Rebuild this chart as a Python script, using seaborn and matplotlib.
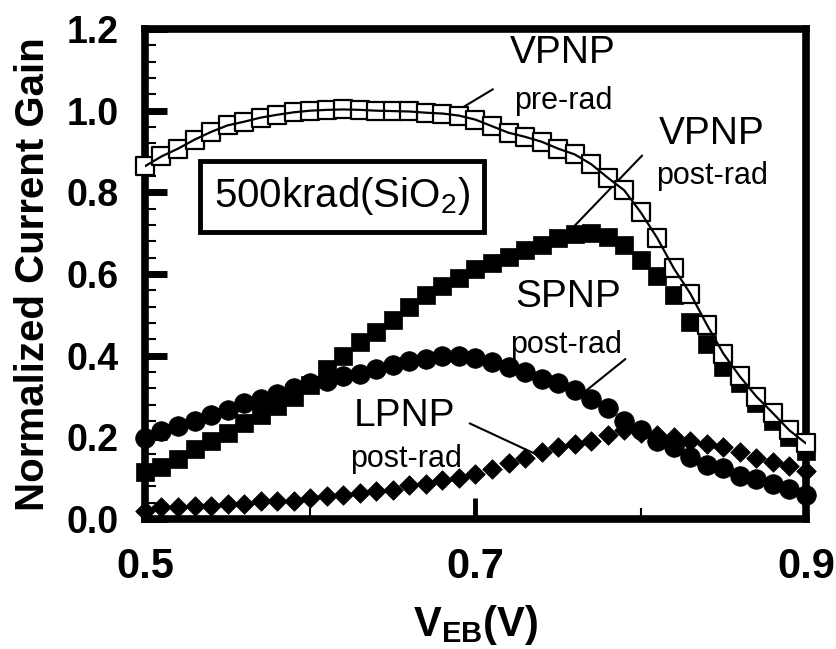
import pandas as pd
import seaborn as sns
import matplotlib.pyplot as plt
from matplotlib.ticker import FixedLocator, MultipleLocator, FormatStrFormatter

# V_EB grid (V)
veb = [0.50, 0.51, 0.52, 0.53, 0.54, 0.55, 0.56, 0.57, 0.58, 0.59,
       0.60, 0.61, 0.62, 0.63, 0.64, 0.65, 0.66, 0.67, 0.68, 0.69,
       0.70, 0.71, 0.72, 0.73, 0.74, 0.75, 0.76, 0.77, 0.78, 0.79,
       0.80, 0.81, 0.82, 0.83, 0.84, 0.85, 0.86, 0.87, 0.88, 0.89, 0.90]

vpnp_pre = [0.864, 0.888, 0.907, 0.929, 0.948, 0.964, 0.973, 0.983, 0.990, 0.996,
            1.000, 1.002, 1.003, 1.002, 1.000, 0.999, 0.998, 0.995, 0.993, 0.988,
            0.978, 0.962, 0.946, 0.936, 0.924, 0.907, 0.893, 0.869, 0.836, 0.805,
            0.751, 0.688, 0.614, 0.552, 0.476, 0.405, 0.349, 0.300, 0.259, 0.217, 0.185]

vpnp_post = [0.115, 0.128, 0.146, 0.172, 0.190, 0.210, 0.234, 0.254, 0.276, 0.300,
             0.327, 0.368, 0.400, 0.433, 0.457, 0.488, 0.519, 0.548, 0.571, 0.590,
             0.612, 0.626, 0.642, 0.658, 0.672, 0.688, 0.698, 0.700, 0.690, 0.670,
             0.635, 0.595, 0.548, 0.483, 0.429, 0.373, 0.332, 0.283, 0.241, 0.202, 0.167]

spnp_post = [0.198, 0.215, 0.227, 0.239, 0.254, 0.266, 0.283, 0.295, 0.307, 0.320,
             0.332, 0.339, 0.351, 0.356, 0.368, 0.376, 0.388, 0.393, 0.398, 0.400,
             0.395, 0.385, 0.373, 0.361, 0.344, 0.332, 0.315, 0.295, 0.271, 0.241,
             0.218, 0.192, 0.177, 0.151, 0.133, 0.124, 0.106, 0.097, 0.085, 0.074, 0.060]

lpnp_post = [0.019, 0.029, 0.029, 0.032, 0.032, 0.037, 0.037, 0.043, 0.043, 0.045,
             0.051, 0.056, 0.059, 0.064, 0.069, 0.072, 0.083, 0.085, 0.096, 0.100,
             0.109, 0.123, 0.136, 0.149, 0.163, 0.176, 0.184, 0.192, 0.205, 0.217,
             0.210, 0.205, 0.202, 0.192, 0.184, 0.176, 0.165, 0.149, 0.139, 0.131, 0.117]

x_major = [0.5, 0.7, 0.9]
x_minor = [0.6, 0.8]

df = pd.DataFrame({'veb': veb, 'vpnp_pre': vpnp_pre, 'vpnp_post': vpnp_post,
                   'spnp_post': spnp_post, 'lpnp_post': lpnp_post})

sns.set_theme(style='white')
plt.rcParams['font.family'] = ['Liberation Sans', 'DejaVu Sans']
plt.rcParams['mathtext.fontset'] = 'custom'
plt.rcParams['mathtext.rm'] = 'Liberation Sans'
plt.rcParams['mathtext.it'] = 'Liberation Sans:italic'
plt.rcParams['mathtext.bf'] = 'Liberation Sans:bold'
plt.rcParams['text.color'] = 'black'
plt.rcParams['axes.labelcolor'] = 'black'
plt.rcParams['xtick.color'] = 'black'
plt.rcParams['ytick.color'] = 'black'

fig = plt.figure(figsize=(8.36, 6.49), dpi=100)
ax = fig.add_axes([0.1734, 0.2003, 0.7907, 0.755])

sns.scatterplot(data=df, x='veb', y='spnp_post', marker='o', s=200, color='black',
                edgecolor='black', linewidth=0.5, ax=ax, zorder=3, clip_on=False)
sns.scatterplot(data=df, x='veb', y='lpnp_post', marker='D', s=100, color='black',
                edgecolor='black', linewidth=0.5, ax=ax, zorder=4, clip_on=False)
sns.scatterplot(data=df, x='veb', y='vpnp_post', marker='s', s=160, color='black',
                edgecolor='black', linewidth=0.5, ax=ax, zorder=3, clip_on=False)
sns.scatterplot(data=df, x='veb', y='vpnp_pre', marker='s', s=160, color='white',
                edgecolor='black', linewidth=1.6, ax=ax, zorder=5, clip_on=False)
sns.lineplot(data=df, x='veb', y='vpnp_pre', color='black', lw=1.6, ax=ax, zorder=6)

ax.set_xlim(0.5, 0.9)
ax.set_ylim(0.0, 1.2)
ax.xaxis.set_major_locator(FixedLocator(x_major))
ax.xaxis.set_minor_locator(FixedLocator(x_minor))
ax.yaxis.set_major_locator(MultipleLocator(0.2))
ax.yaxis.set_minor_locator(MultipleLocator(0.04))
ax.xaxis.set_major_formatter(FormatStrFormatter('%.1f'))
ax.yaxis.set_major_formatter(FormatStrFormatter('%.1f'))

for sp in ax.spines.values():
    sp.set_linewidth(5.5)
    sp.set_color('black')

ax.tick_params(axis='y', which='major', direction='in', length=16, width=5,
               labelsize=27, pad=19, colors='black', left=True)
ax.tick_params(axis='y', which='minor', direction='in', length=8, width=1.5, left=True)
ax.tick_params(axis='x', which='major', direction='in', length=15, width=3.5,
               labelsize=30, pad=20, colors='black', bottom=True)
ax.tick_params(axis='x', which='minor', direction='in', length=8, width=1.5, bottom=True)
for lab in ax.get_xticklabels() + ax.get_yticklabels():
    lab.set_fontweight('bold')

ax.set_xlabel(r'$\mathbf{V_{EB}}$(V)', fontsize=30, fontweight='bold', labelpad=12)
ax.set_ylabel('Normalized Current Gain', fontsize=29, fontweight='bold', labelpad=10)

# labels
ax.text(0.753, 1.142, 'VPNP', fontsize=28, ha='center', va='center')
ax.text(0.753, 1.024, 'pre-rad', fontsize=22, ha='center', va='center')
ax.annotate('', xy=(0.689, 1.000), xytext=(0.712, 1.056),
            arrowprops=dict(arrowstyle='-', lw=1.5, color='black'))

ax.text(0.843, 0.944, 'VPNP', fontsize=28, ha='center', va='center')
ax.text(0.843, 0.839, 'post-rad', fontsize=22, ha='center', va='center')
ax.annotate('', xy=(0.759, 0.714), xytext=(0.802, 0.895),
            arrowprops=dict(arrowstyle='-', lw=1.5, color='black'))

ax.text(0.756, 0.543, 'SPNP', fontsize=28, ha='center', va='center')
ax.text(0.755, 0.425, 'post-rad', fontsize=22, ha='center', va='center')
ax.annotate('', xy=(0.765, 0.308), xytext=(0.792, 0.396),
            arrowprops=dict(arrowstyle='-', lw=1.5, color='black'))

ax.text(0.657, 0.252, 'LPNP', fontsize=28, ha='center', va='center')
ax.text(0.658, 0.147, 'post-rad', fontsize=22, ha='center', va='center')
ax.annotate('', xy=(0.738, 0.156), xytext=(0.695, 0.237),
            arrowprops=dict(arrowstyle='-', lw=1.5, color='black'))

ax.text(0.619, 0.79, '500krad(SiO$_2$)', fontsize=29, ha='center', va='center',
        bbox=dict(boxstyle='square,pad=0.35', fc='white', ec='black', lw=3.5), zorder=7)

fig.savefig('out.png', dpi=100)
